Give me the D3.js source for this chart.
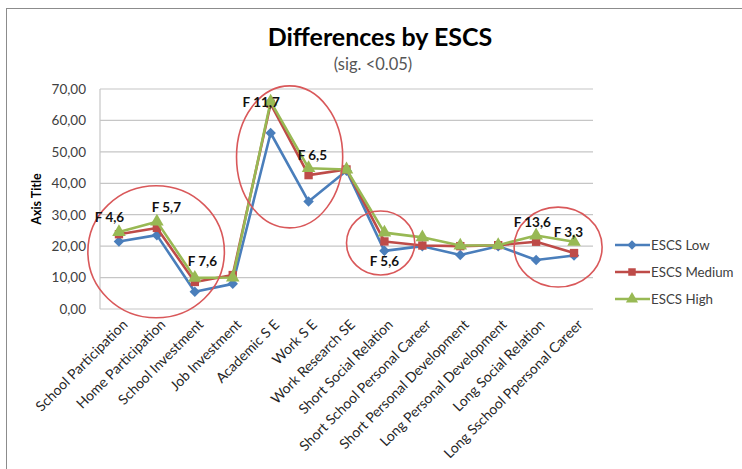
<!DOCTYPE html>
<html>
<head>
<meta charset="utf-8">
<script src="https://cdn.jsdelivr.net/npm/d3@7"></script>
<style>
  body { margin: 0; background: #fff; }
  text { font-family: Lato, "Open Sans", sans-serif; }
</style>
</head>
<body>
<div id="chart"></div>
<script>
// data
let categories = ['School Participation', 'Home Participation', 'School Investment', 'Job Investment',
  'Academic S E', 'Work S E', 'Work Research SE', 'Short Social Relation', 'Short School Personal Career',
  'Short Personal Development', 'Long Personal Development', 'Long Social Relation', 'Long Sschool Ppersonal Career'];
let escsLow    = [21.5, 23.5, 5.5, 8.0, 56.0, 34.2, 44.0, 18.5, 20.0, 17.2, 20.0, 15.6, 17.0];
let escsMedium = [23.8, 25.8, 8.6, 10.8, 65.3, 42.6, 44.4, 21.5, 20.2, 20.0, 20.3, 21.4, 17.8];
let escsHigh   = [24.5, 27.8, 9.9, 10.0, 66.0, 44.8, 44.4, 24.3, 22.8, 20.2, 20.3, 23.4, 21.4];
let seriesNames = ['ESCS Low', 'ESCS Medium', 'ESCS High'];
let yTicks = [0, 10, 20, 30, 40, 50, 60, 70];
// F-value notes: category index (fractional) and value level of the text baseline
let fNotes = [
  { label: 'F 4,6', cat: -0.25, val: 27.8 },
  { label: 'F 5,7', cat: 1.25, val: 31.0 },
  { label: 'F 7,6', cat: 2.2, val: 13.7 },
  { label: 'F 11,7', cat: 3.75, val: 64.3 },
  { label: 'F 6,5', cat: 5.1, val: 47.5 },
  { label: 'F 5,6', cat: 7.0, val: 13.7 },
  { label: 'F 13,6', cat: 10.9, val: 26.1 },
  { label: 'F 3,3', cat: 11.85, val: 22.9 }
];
// red rings round the groups: centre (cat, val), radii in category widths and value units
let rings = [
  { cat: 0.98, val: 18.2, rc: 1.8, rv: 21 },
  { cat: 4.5, val: 48.4, rc: 1.4, rv: 22.6 },
  { cat: 6.9, val: 21.0, rc: 0.9, rv: 10.2 },
  { cat: 11.58, val: 19.7, rc: 1.16, rv: 12.7 }
];

let svgWidth = 742, svgHeight = 469;
let margin = { top: 89, left: 100 };
let width = 493, height = 220;

let svg = d3.select('#chart').append('svg')
  .attr('width', svgWidth).attr('height', svgHeight);

// outer frame
svg.append('rect').attr('x', 6.5).attr('y', 8.5).attr('width', 800).attr('height', 600)
  .attr('fill', 'none').attr('stroke', '#8c8c8c');

svg.append('text').attr('x', 380).attr('y', 46).attr('text-anchor', 'middle')
  .style('font-size', '25px').style('font-weight', 'bold').attr('fill', '#000')
  .text('Differences by ESCS');
svg.append('text').attr('x', 373).attr('y', 70).attr('text-anchor', 'middle')
  .style('font-size', '16.5px').attr('fill', '#555')
  .text('(sig. <0.05)');

let g = svg.append('g').attr('transform', `translate(${margin.left},${margin.top})`);

let x = d3.scaleBand().domain(categories).range([0, width]);
let xc = i => x(categories[0]) + x.bandwidth() * (i + 0.5);
let y = d3.scaleLinear().domain([0, 70]).range([height, 0]);

// gridlines
g.selectAll('.grid').data(yTicks).enter().append('line')
  .attr('x1', 0).attr('x2', width)
  .attr('y1', d => y(d)).attr('y2', d => y(d))
  .attr('stroke', '#c6c6c6').attr('stroke-width', 1.2);
g.append('line').attr('x1', 0).attr('x2', 0).attr('y1', 0).attr('y2', height)
  .attr('stroke', '#c6c6c6').attr('stroke-width', 1.2);

let yAxis = d3.axisLeft(y).tickValues(yTicks).tickSize(0).tickPadding(14)
  .tickFormat(d => d3.format('.2f')(d).replace('.', ','));
g.append('g').call(yAxis).call(a => a.select('.domain').remove())
  .selectAll('text').style('font-size', '13.5px').attr('fill', '#404040')
  .style('font-family', 'Lato, sans-serif');

svg.append('text').attr('transform', 'translate(41,199) rotate(-90)')
  .attr('text-anchor', 'middle').style('font-size', '12.5px').style('font-weight', 'bold')
  .text('Axis Title');

let xAxis = d3.axisBottom(x).tickSize(0).tickPadding(0);
g.append('g').attr('transform', `translate(0,${height})`).call(xAxis)
  .call(a => a.select('.domain').remove())
  .selectAll('text')
  .style('font-size', '14px').attr('fill', '#262626')
  .style('font-family', 'Lato, sans-serif')
  .attr('text-anchor', 'end').attr('dy', '0.35em')
  .attr('transform', 'translate(6,13) rotate(-45)');

// series
let series = [escsLow, escsMedium, escsHigh];
let colors = ['#4a7ebb', '#be4b48', '#98b954'];
let symbols = [d3.symbolDiamond2, d3.symbolSquare, d3.symbolTriangle];
let symSizes = [70, 70, 80];

let line = d3.line().x((d, i) => xc(i)).y(d => y(d));
series.forEach((s, k) => {
  g.append('path').datum(s).attr('d', line).attr('fill', 'none')
    .attr('stroke', colors[k]).attr('stroke-width', 2.6).attr('stroke-linejoin', 'round');
  g.selectAll('.m' + k).data(s).enter().append('path')
    .attr('d', d3.symbol().type(symbols[k]).size(symSizes[k]))
    .attr('transform', (d, i) => `translate(${xc(i)},${y(d)})`)
    .attr('fill', colors[k]);
});

// rings
let bw = x.bandwidth();
g.selectAll('.ring').data(rings).enter().append('ellipse')
  .attr('cx', d => xc(d.cat)).attr('cy', d => y(d.val))
  .attr('rx', d => d.rc * bw).attr('ry', d => y(0) - y(d.rv))
  .attr('fill', 'none').attr('stroke', '#d9585a').attr('stroke-width', 1.6);

// F notes
g.selectAll('.fnote').data(fNotes).enter().append('text')
  .attr('x', d => xc(d.cat)).attr('y', d => y(d.val))
  .attr('text-anchor', 'middle').style('font-size', '13.5px').style('font-weight', 'bold')
  .attr('fill', '#111').text(d => d.label);

// legend
let legend = svg.append('g').attr('transform', 'translate(615,245)');
seriesNames.forEach((n, k) => {
  let row = legend.append('g').attr('transform', `translate(0,${k * 27})`);
  row.append('line').attr('x1', 0).attr('x2', 35).attr('stroke', colors[k]).attr('stroke-width', 2.6);
  row.append('path').attr('d', d3.symbol().type(symbols[k]).size(symSizes[k] * 0.8))
    .attr('transform', 'translate(17,0)').attr('fill', colors[k]);
  row.append('text').attr('x', 36).attr('dy', '0.35em').style('font-size', '13.3px')
    .attr('fill', '#404040').text(n);
});
</script>
</body>
</html>
